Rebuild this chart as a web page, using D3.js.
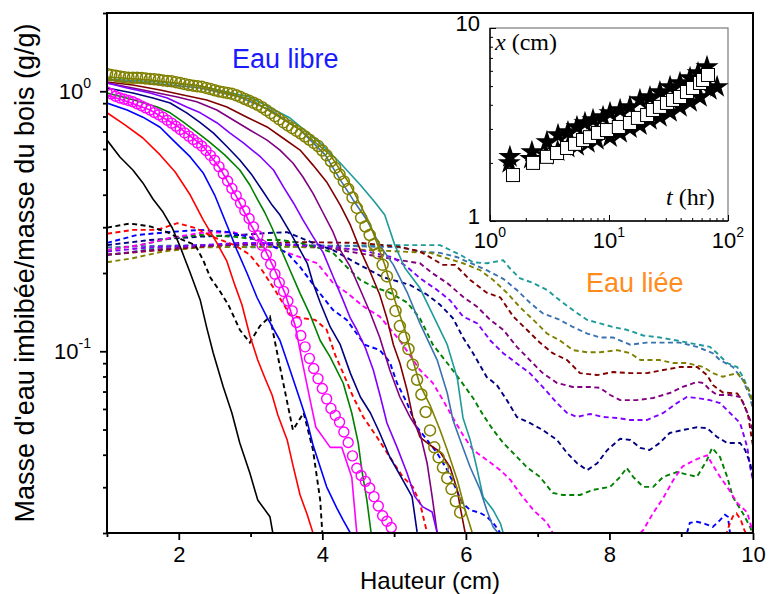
<!DOCTYPE html>
<html><head><meta charset="utf-8">
<script src="https://cdn.jsdelivr.net/npm/d3@7"></script>
<style>body{margin:0;background:#fff}svg{display:block}</style>
</head><body>
<svg id="c" width="769" height="594"></svg>
<script>
// ---------- DATA: main plot (x = Hauteur in cm, y = g/g) ----------
const xMajorTicks = [2, 4, 6, 8, 10];
const xMinorTicks = [1, 3, 5, 7, 9];
const yMajorTicks = [0.1, 1];
const yMajorLabels = [["10", "-1"], ["10", "0"]];
const yMinorTicks = [0.02,0.03,0.04,0.05,0.06,0.07,0.08,0.09,0.2,0.3,0.4,0.5,0.6,0.7,0.8,0.9,2];

// free water (solid lines)
const freeBlack = [[1.00,0.649],[1.18,0.559],[1.36,0.498],[1.50,0.444],[1.64,0.385],[1.78,0.343],[1.91,0.298],[2.02,0.252],[2.16,0.200],[2.30,0.157],[2.39,0.123],[2.48,0.0985],[2.62,0.0729],[2.74,0.0579],[2.85,0.0444],[2.99,0.0340],[3.10,0.0268],[3.27,0.0231],[3.31,0.0200]];
const freeRed = [[1.00,0.827],[1.25,0.742],[1.50,0.661],[1.74,0.569],[1.95,0.489],[2.16,0.399],[2.34,0.320],[2.53,0.261],[2.67,0.222],[2.78,0.180],[2.88,0.151],[2.99,0.115],[3.10,0.0925],[3.20,0.0789],[3.30,0.0679],[3.38,0.0569],[3.51,0.0456],[3.59,0.0365],[3.69,0.0280],[3.79,0.0235],[3.87,0.0200]];
const freeBlue = [[1.00,0.901],[1.28,0.847],[1.50,0.795],[1.74,0.727],[1.92,0.649],[2.16,0.559],[2.34,0.485],[2.50,0.399],[2.67,0.306],[2.81,0.245],[2.95,0.200],[3.09,0.161],[3.23,0.135],[3.41,0.110],[3.55,0.0847],[3.69,0.0649],[3.79,0.0535],[3.87,0.0436],[3.97,0.0359],[4.06,0.0301],[4.20,0.0250],[4.29,0.0224],[4.39,0.0200]];
const freeMagenta = [[1.00,0.967],[1.32,0.905],[1.60,0.847],[1.98,0.735],[2.34,0.615],[2.57,0.507],[2.81,0.391],[2.99,0.311],[3.17,0.256],[3.34,0.205],[3.48,0.167],[3.62,0.126],[3.73,0.0885],[3.83,0.0649],[3.91,0.0510],[4.11,0.0427],[4.27,0.0427],[4.41,0.0328],[4.48,0.0200]];
const freeGreen = [[1.00,0.984],[1.22,0.950],[1.46,0.911],[1.70,0.870],[1.88,0.826],[2.06,0.762],[2.25,0.697],[2.43,0.637],[2.64,0.569],[2.85,0.498],[2.99,0.436],[3.10,0.382],[3.20,0.341],[3.30,0.298],[3.41,0.252],[3.55,0.205],[3.69,0.167],[3.83,0.138],[3.97,0.110],[4.11,0.0950],[4.29,0.0755],[4.41,0.0579],[4.50,0.0444],[4.55,0.0349],[4.62,0.0268],[4.68,0.0200]];
const freeNavy = [[1.00,1.029],[1.36,0.984],[1.64,0.942],[1.88,0.901],[2.11,0.826],[2.30,0.757],[2.48,0.692],[2.67,0.613],[2.85,0.544],[3.02,0.476],[3.16,0.417],[3.30,0.365],[3.41,0.334],[3.55,0.287],[3.69,0.245],[3.79,0.218],[3.87,0.183],[3.97,0.154],[4.11,0.124],[4.25,0.106],[4.39,0.0824],[4.53,0.0667],[4.67,0.0579],[4.80,0.0485],[4.94,0.0392],[5.12,0.0320],[5.25,0.0276],[5.32,0.0202]];
const freeViolet = [[1.00,1.076],[1.28,1.029],[1.60,0.984],[1.84,0.942],[2.11,0.870],[2.30,0.826],[2.53,0.757],[2.71,0.692],[2.90,0.633],[3.14,0.559],[3.32,0.498],[3.46,0.428],[3.60,0.371],[3.73,0.320],[3.87,0.276],[4.01,0.240],[4.15,0.194],[4.29,0.157],[4.39,0.134],[4.48,0.121],[4.60,0.103],[4.71,0.0847],[4.81,0.0667],[4.90,0.0530],[5.04,0.0428],[5.18,0.0340],[5.29,0.0276],[5.40,0.0252],[5.53,0.0241],[5.60,0.0200]];
const freePurple = [[1.00,1.076],[1.36,1.029],[1.64,0.993],[1.98,0.950],[2.25,0.911],[2.53,0.847],[2.76,0.775],[2.99,0.710],[3.23,0.649],[3.41,0.594],[3.59,0.530],[3.73,0.468],[3.87,0.405],[4.01,0.341],[4.15,0.287],[4.25,0.245],[4.39,0.211],[4.53,0.172],[4.67,0.140],[4.80,0.113],[4.94,0.0847],[5.08,0.0667],[5.22,0.0559],[5.36,0.0485],[5.46,0.0371],[5.53,0.0276],[5.60,0.0200]];
const freeDarkRed = [[1.00,1.085],[1.36,1.057],[1.74,1.011],[2.06,0.967],[2.39,0.926],[2.67,0.870],[2.95,0.795],[3.23,0.729],[3.45,0.661],[3.69,0.594],[3.87,0.520],[4.06,0.448],[4.25,0.365],[4.39,0.306],[4.53,0.245],[4.67,0.201],[4.80,0.165],[4.90,0.134],[4.99,0.106],[5.08,0.0901],[5.18,0.0710],[5.26,0.0559],[5.36,0.0468],[5.50,0.0436],[5.64,0.0410],[5.78,0.0358],[5.88,0.0293],[5.92,0.0252],[5.99,0.0200]];
const freeOlive = [[1.00,1.135],[1.60,1.105],[2.30,1.048],[2.99,0.934],[3.69,0.710],[4.11,0.569],[4.39,0.436],[4.67,0.306],[4.87,0.215],[5.01,0.157],[5.15,0.121],[5.26,0.0925],[5.36,0.0742],[5.50,0.0621],[5.64,0.0498],[5.74,0.0417],[5.88,0.0320],[5.99,0.0245],[6.09,0.0200]];
const freeSteel = [[1.00,1.105],[1.74,1.066],[2.30,1.029],[2.85,0.950],[3.27,0.847],[3.69,0.710],[4.04,0.569],[4.25,0.456],[4.43,0.382],[4.62,0.320],[4.80,0.256],[4.99,0.215],[5.18,0.169],[5.36,0.128],[5.60,0.0925],[5.74,0.0691],[5.82,0.0544],[5.92,0.0456],[6.06,0.0358],[6.20,0.0293],[6.29,0.0245],[6.38,0.0211],[6.45,0.0200]];
const freeTeal = [[1.00,1.115],[1.74,1.085],[2.30,1.048],[2.99,0.950],[3.55,0.789],[3.97,0.632],[4.25,0.530],[4.53,0.436],[4.73,0.375],[4.87,0.334],[5.01,0.256],[5.15,0.209],[5.36,0.175],[5.54,0.138],[5.74,0.106],[5.88,0.0788],[5.96,0.0554],[6.06,0.0456],[6.15,0.0358],[6.24,0.0275],[6.38,0.0245],[6.48,0.0218],[6.52,0.0200]];

// circle-marker series (sampled heights)
const sampleX = [1.00,1.06,1.12,1.18,1.24,1.30,1.36,1.42,1.48,1.54,1.60,1.66,1.72,1.78,1.84,1.90,1.96,2.02,2.08,2.14,2.20,2.26,2.32,2.38,2.44,2.50,2.56,2.62,2.68,2.74,2.80,2.86,2.92,2.98,3.04,3.10,3.16,3.22,3.28,3.34,3.40,3.46,3.52,3.58,3.64,3.70,3.76,3.82,3.88,3.94,4.00,4.06,4.12,4.18,4.24,4.30,4.36,4.42,4.48,4.54,4.60,4.66,4.72,4.78,4.84,4.90,4.96,5.02,5.08,5.14,5.20,5.26,5.32,5.38,5.44,5.50,5.56,5.62,5.68,5.74,5.80,5.86,5.92];
const magentaCircleY = [0.993,0.976,0.957,0.942,0.932,0.921,0.911,0.895,0.879,0.863,0.847,0.828,0.812,0.795,0.774,0.754,0.734,0.713,0.692,0.672,0.652,0.633,0.616,0.592,0.567,0.543,0.513,0.482,0.452,0.423,0.397,0.371,0.347,0.324,0.301,0.278,0.256,0.235,0.216,0.198,0.184,0.170,0.156,0.143,0.129,0.115,0.104,0.0939,0.0858,0.0785,0.0719,0.0656,0.0603,0.0567,0.0534,0.0489,0.0446,0.0396,0.0355,0.0333,0.0316,0.0298,0.0276,0.0254,0.0233,0.0222,0.0210];
const oliveCircleY = [1.165,1.156,1.148,1.140,1.132,1.127,1.127,1.127,1.125,1.120,1.116,1.112,1.107,1.101,1.096,1.092,1.084,1.075,1.066,1.057,1.051,1.045,1.040,1.030,1.020,1.009,0.999,0.992,0.985,0.978,0.965,0.950,0.934,0.919,0.903,0.887,0.868,0.846,0.824,0.802,0.780,0.759,0.739,0.721,0.704,0.688,0.670,0.651,0.633,0.616,0.592,0.567,0.538,0.508,0.479,0.450,0.421,0.390,0.356,0.326,0.302,0.280,0.258,0.238,0.215,0.194,0.166,0.143,0.125,0.113,0.102,0.0888,0.0777,0.0682,0.0584,0.0496,0.0427,0.0391,0.0357,0.0325,0.0295,0.0265,0.0240];

// bound water (dashed lines); null = gap
const boundBlack = [[1.00,0.299],[1.32,0.310],[1.60,0.302],[1.84,0.287],[2.02,0.271],[2.23,0.256],[2.34,0.224],[2.44,0.192],[2.58,0.169],[2.69,0.151],[2.85,0.121],[2.99,0.108],[3.13,0.125],[3.27,0.136],[3.41,0.0870],[3.59,0.0498],[3.74,0.0579],[3.87,0.0417],[3.97,0.0268],[4.00,0.0200]];
const boundRed = [[1.00,0.283],[1.36,0.293],[1.70,0.293],[1.98,0.311],[2.23,0.298],[2.51,0.273],[2.78,0.256],[2.99,0.235],[3.16,0.205],[3.34,0.172],[3.55,0.138],[3.73,0.134],[3.90,0.132],[4.06,0.121],[4.18,0.0967],[4.29,0.0824],[4.43,0.0667],[4.57,0.0559],[4.76,0.0468],[4.94,0.0392],[5.12,0.0329],[5.26,0.0301],[5.36,0.0261],[5.46,0.0200],null,[9.62,0.0195],[9.67,0.0215],[9.72,0.0232],[9.77,0.0238],[9.83,0.0225],[9.88,0.0205],[9.92,0.0195]];
const boundBlue = [[1.00,0.261],[1.42,0.280],[1.84,0.287],[2.30,0.293],[2.71,0.287],[3.13,0.268],[3.51,0.239],[3.69,0.211],[3.93,0.172],[4.15,0.144],[4.34,0.132],[4.59,0.106],[4.80,0.101],[4.94,0.0909],[5.04,0.0755],[5.18,0.0632],[5.32,0.0510],[5.46,0.0456],[5.60,0.0406],[5.74,0.0349],[5.85,0.0301],[5.95,0.0261],[6.06,0.0245],[6.20,0.0239],[6.29,0.0231],[6.38,0.0219],[6.48,0.0200],null,[9.08,0.0200],[9.12,0.0219],[9.22,0.0221],[9.33,0.0217],[9.44,0.0211],[9.54,0.0224],[9.61,0.0235],[9.65,0.0231],[9.68,0.0200]];
const boundMagenta = [[1.00,0.245],[1.46,0.256],[1.88,0.273],[2.30,0.285],[2.76,0.287],[3.13,0.268],[3.41,0.245],[3.69,0.230],[3.93,0.218],[4.15,0.183],[4.34,0.168],[4.57,0.149],[4.80,0.136],[5.08,0.110],[5.36,0.0847],[5.54,0.0755],[5.68,0.0649],[5.82,0.0554],[5.96,0.0476],[6.10,0.0417],[6.29,0.0382],[6.48,0.0349],[6.62,0.0320],[6.75,0.0285],[6.94,0.0245],[7.13,0.0219],[7.21,0.0200],null,[8.43,0.0200],[8.47,0.0205],[8.61,0.0239],[8.75,0.0273],[8.89,0.0320],[9.02,0.0361],[9.22,0.0385],[9.36,0.0398],[9.44,0.0365],[9.54,0.0329],[9.64,0.0301],[9.78,0.0261],[9.92,0.0240],[9.96,0.0219],[10.0,0.0200]];
const boundGreen = [[1.00,0.245],[1.46,0.256],[1.92,0.273],[2.30,0.280],[2.76,0.276],[3.13,0.268],[3.41,0.268],[3.69,0.261],[3.97,0.249],[4.15,0.239],[4.34,0.211],[4.53,0.188],[4.71,0.177],[4.94,0.168],[5.18,0.154],[5.36,0.134],[5.54,0.106],[5.74,0.0901],[5.92,0.0775],[6.10,0.0661],[6.24,0.0569],[6.38,0.0498],[6.52,0.0444],[6.66,0.0406],[6.85,0.0358],[7.03,0.0329],[7.21,0.0285],[7.35,0.0280],[7.59,0.0280],[7.77,0.0293],[8.01,0.0301],[8.15,0.0329],[8.24,0.0356],[8.33,0.0329],[8.47,0.0301],[8.61,0.0301],[8.75,0.0329],[8.94,0.0343],[9.22,0.0329],[9.36,0.0382],[9.43,0.0425],[9.54,0.0392],[9.64,0.0329],[9.72,0.0275],[9.86,0.0238],[9.96,0.0211],[9.99,0.0200]];
const boundNavy = [[1.00,0.256],[1.60,0.268],[2.30,0.276],[2.85,0.280],[3.23,0.285],[3.51,0.287],[3.87,0.261],[4.15,0.245],[4.45,0.220],[4.84,0.193],[5.22,0.180],[5.46,0.165],[5.64,0.151],[5.82,0.134],[5.96,0.113],[6.10,0.0983],[6.29,0.0796],[6.43,0.0742],[6.57,0.0649],[6.71,0.0559],[6.89,0.0530],[7.07,0.0498],[7.27,0.0456],[7.41,0.0406],[7.55,0.0371],[7.69,0.0349],[7.83,0.0371],[7.97,0.0417],[8.15,0.0461],[8.29,0.0456],[8.43,0.0425],[8.56,0.0417],[8.70,0.0444],[8.84,0.0485],[9.02,0.0498],[9.22,0.0510],[9.36,0.0506],[9.50,0.0468],[9.64,0.0444],[9.82,0.0444],[9.89,0.0417],[9.96,0.0371],[10.0,0.0329]];
const boundViolet = [[1.00,0.242],[1.60,0.251],[2.30,0.256],[2.85,0.261],[3.23,0.261],[3.69,0.256],[4.11,0.252],[4.53,0.245],[4.98,0.230],[5.18,0.211],[5.36,0.191],[5.60,0.172],[5.78,0.157],[5.96,0.136],[6.16,0.128],[6.34,0.110],[6.52,0.0983],[6.71,0.0897],[6.89,0.0824],[7.07,0.0729],[7.27,0.0632],[7.41,0.0579],[7.55,0.0559],[7.73,0.0574],[7.91,0.0559],[8.11,0.0554],[8.29,0.0544],[8.52,0.0544],[8.75,0.0579],[8.94,0.0632],[9.08,0.0667],[9.22,0.0661],[9.40,0.0649],[9.54,0.0632],[9.68,0.0579],[9.82,0.0530],[9.92,0.0428],[9.96,0.0358],[10.0,0.0320]];
const boundPurple = [[1.00,0.235],[1.60,0.245],[2.30,0.254],[2.99,0.258],[3.69,0.256],[4.25,0.245],[4.84,0.230],[5.08,0.224],[5.36,0.218],[5.54,0.199],[5.74,0.183],[5.96,0.162],[6.16,0.148],[6.34,0.132],[6.52,0.121],[6.71,0.104],[6.89,0.0925],[7.07,0.0824],[7.27,0.0755],[7.49,0.0729],[7.73,0.0729],[7.87,0.0723],[8.01,0.0679],[8.15,0.0649],[8.38,0.0649],[8.61,0.0661],[8.84,0.0691],[9.02,0.0729],[9.22,0.0762],[9.31,0.0755],[9.40,0.0710],[9.50,0.0679],[9.68,0.0679],[9.82,0.0667],[9.89,0.0610],[9.96,0.0544],[10.0,0.0485]];
const boundDarkRed = [[1.00,0.235],[1.74,0.245],[2.57,0.256],[3.69,0.263],[4.53,0.261],[5.08,0.252],[5.36,0.242],[5.68,0.215],[5.85,0.215],[6.06,0.188],[6.29,0.168],[6.48,0.161],[6.66,0.136],[6.85,0.121],[7.03,0.108],[7.21,0.0983],[7.41,0.0925],[7.59,0.0824],[7.83,0.0810],[8.05,0.0832],[8.29,0.0824],[8.52,0.0824],[8.75,0.0847],[8.98,0.0870],[9.22,0.0870],[9.36,0.0810],[9.44,0.0742],[9.58,0.0694],[9.78,0.0688],[9.86,0.0638],[9.93,0.0569],[9.97,0.0485],[10.0,0.0432]];
const boundOlive = [[1.00,0.220],[1.36,0.228],[1.78,0.242],[2.30,0.251],[2.99,0.252],[3.69,0.252],[4.39,0.247],[5.08,0.242],[5.50,0.239],[5.96,0.218],[6.20,0.205],[6.38,0.188],[6.57,0.168],[6.75,0.148],[6.94,0.132],[7.13,0.117],[7.31,0.110],[7.49,0.101],[7.69,0.0991],[7.87,0.0991],[8.11,0.101],[8.29,0.0983],[8.43,0.0925],[8.70,0.0925],[8.89,0.0901],[9.08,0.0901],[9.31,0.0870],[9.44,0.0824],[9.58,0.0798],[9.78,0.0824],[9.86,0.0775],[9.96,0.0694],[10.0,0.0610]];
const boundSteel = [[1.00,0.251],[1.60,0.254],[2.30,0.256],[2.99,0.256],[3.69,0.256],[4.39,0.254],[5.08,0.251],[5.36,0.242],[5.64,0.239],[5.88,0.230],[6.29,0.205],[6.52,0.190],[6.71,0.172],[6.89,0.154],[7.07,0.140],[7.31,0.132],[7.49,0.124],[7.69,0.117],[7.87,0.113],[8.05,0.113],[8.29,0.106],[8.52,0.108],[8.75,0.108],[8.98,0.108],[9.22,0.104],[9.44,0.0983],[9.54,0.0925],[9.72,0.0870],[9.86,0.0775],[9.96,0.0667],[10.0,0.0594]];
const boundTeal = [[1.00,0.235],[1.28,0.239],[1.74,0.251],[2.30,0.256],[2.99,0.251],[3.51,0.252],[4.11,0.254],[4.80,0.256],[5.36,0.256],[5.64,0.256],[5.92,0.235],[6.10,0.220],[6.29,0.218],[6.52,0.224],[6.61,0.209],[6.75,0.191],[6.94,0.183],[7.13,0.172],[7.31,0.157],[7.49,0.144],[7.69,0.132],[7.87,0.128],[8.05,0.124],[8.24,0.121],[8.47,0.115],[8.70,0.113],[8.94,0.110],[9.16,0.107],[9.40,0.104],[9.50,0.0983],[9.64,0.0901],[9.78,0.0870],[9.86,0.0796],[9.96,0.0694],[10.0,0.0610]];

// ---------- DATA: inset (t in hr, x in cm) ----------
const insetXTicks = [1, 10, 100];
const insetXLabels = [["10","0"],["10","1"],["10","2"]];
const insetYTicks = [1, 10];
const insetYLabels = ["1", "10"];
const squareT = [1.56,2.30,3.01,3.66,4.44,5.18,6.05,6.92,8.08,9.62,12.1,15.0,17.5,20.9,23.4,26.8,30.7,34.5,39.5,45.2,50.8,58.2,61.7,67.9];
const squareX = [1.73,2.00,2.15,2.25,2.39,2.51,2.63,2.72,2.86,2.96,3.07,3.22,3.42,3.54,3.76,3.90,4.09,4.24,4.39,4.66,4.89,5.19,5.38,5.71];
const starUpperT = [1.47,2.25,3.01,3.73,4.52,5.38,6.28,7.34,8.91,10.2,12.4,15.0,18.2,22.1,26.8,32.6,39.5,48.0,56.0,66.6];
const starUpperX = [2.15,2.28,2.57,2.79,2.89,3.07,3.22,3.34,3.46,3.63,3.76,3.90,4.24,4.39,4.66,4.95,5.19,5.51,5.84,6.28];
const starLowerT = [1.45,2.20,2.95,3.70,4.50,5.40,6.65,7.92,10.2,12.4,15.0,18.2,22.1,26.8,32.6,39.5,48.0,58.2,70.5,81.0];
const starLowerX = [2.00,2.10,2.20,2.30,2.40,2.45,2.54,2.63,2.72,2.86,3.03,3.14,3.34,3.46,3.67,3.90,4.14,4.39,4.77,4.95];

// ---------- STYLE ----------
const COL = {black:"#000000", red:"#ff0000", blue:"#0000ff", magenta:"#ff00ff", green:"#008000",
  navy:"#000080", violet:"#8000ff", purple:"#800080", darkred:"#800000", olive:"#808000",
  steel:"#3a72b0", teal:"#1f9a9a"};
const SANS = "'Liberation Sans', Arial, Helvetica, sans-serif";
const SERIF = "'Liberation Serif', 'Times New Roman', serif";

const boundSeries = [
  {d: boundTeal, c: COL.teal}, {d: boundSteel, c: COL.steel}, {d: boundOlive, c: COL.olive},
  {d: boundDarkRed, c: COL.darkred}, {d: boundPurple, c: COL.purple}, {d: boundViolet, c: COL.violet},
  {d: boundNavy, c: COL.navy}, {d: boundGreen, c: COL.green}, {d: boundMagenta, c: COL.magenta},
  {d: boundBlue, c: COL.blue}, {d: boundRed, c: COL.red}, {d: boundBlack, c: COL.black}];
const freeSeries = [
  {d: freeTeal, c: COL.teal}, {d: freeSteel, c: COL.steel}, {d: freeOlive, c: COL.olive},
  {d: freeDarkRed, c: COL.darkred}, {d: freePurple, c: COL.purple}, {d: freeViolet, c: COL.violet},
  {d: freeNavy, c: COL.navy}, {d: freeGreen, c: COL.green}, {d: freeMagenta, c: COL.magenta},
  {d: freeBlue, c: COL.blue}, {d: freeRed, c: COL.red}, {d: freeBlack, c: COL.black}];

// ---------- DRAW ----------
const svg = d3.select("#c");
svg.append("rect").attr("width", 769).attr("height", 594).attr("fill", "#fff");

const x = d3.scaleLinear().domain([1, 10]).range([107, 753]);
const y = d3.scaleLog().domain([0.02, 2]).range([533, 13]);

svg.append("defs").append("clipPath").attr("id", "plotclip").append("rect")
  .attr("x", x.range()[0]).attr("y", y.range()[1])
  .attr("width", x.range()[1] - x.range()[0]).attr("height", y.range()[0] - y.range()[1]);

const plot = svg.append("g").attr("clip-path", "url(#plotclip)");
const line = d3.line().defined(d => d !== null).x(d => x(d[0])).y(d => y(d[1]));

plot.append("g").selectAll("path").data(boundSeries).join("path")
  .attr("d", s => line(s.d)).attr("fill", "none").attr("stroke", s => s.c)
  .attr("stroke-width", 1.9).attr("stroke-dasharray", "5,3.5");

plot.append("g").selectAll("path").data(freeSeries).join("path")
  .attr("d", s => line(s.d)).attr("fill", "none").attr("stroke", s => s.c)
  .attr("stroke-width", 1.6).attr("stroke-linejoin", "round");

plot.append("g").selectAll("circle").data(magentaCircleY).join("circle")
  .attr("cx", (v, i) => x(sampleX[i])).attr("cy", v => y(v)).attr("r", 5)
  .attr("fill", "none").attr("stroke", COL.magenta).attr("stroke-width", 1.4);
plot.append("g").selectAll("circle").data(oliveCircleY).join("circle")
  .attr("cx", (v, i) => x(sampleX[i])).attr("cy", v => y(v)).attr("r", 5.5)
  .attr("fill", "none").attr("stroke", COL.olive).attr("stroke-width", 1.5);

// axes
function styleAxis(g) {
  g.select(".domain").remove();
  g.selectAll(".tick line").attr("stroke", "#000").attr("stroke-width", 1.8);
  g.selectAll("text").attr("font-family", SANS).attr("font-size", 22).attr("fill", "#000");
}
svg.append("g").attr("transform", `translate(0,${y.range()[0]})`)
  .call(d3.axisBottom(x).tickValues(xMajorTicks).tickSize(7).tickPadding(6).tickFormat(d3.format("d")))
  .call(styleAxis);
svg.append("g").attr("transform", `translate(0,${y.range()[0]})`)
  .call(d3.axisBottom(x).tickValues(xMinorTicks).tickSize(4).tickFormat(""))
  .call(styleAxis);
svg.append("g").attr("transform", `translate(${x.range()[0]},0)`)
  .call(d3.axisLeft(y).tickValues(yMajorTicks).tickSize(7).tickFormat(""))
  .call(styleAxis);
svg.append("g").attr("transform", `translate(${x.range()[0]},0)`)
  .call(d3.axisLeft(y).tickValues(yMinorTicks).tickSize(4).tickFormat(""))
  .call(styleAxis);

svg.append("rect").attr("x", x.range()[0]).attr("y", y.range()[1])
  .attr("width", x.range()[1] - x.range()[0]).attr("height", y.range()[0] - y.range()[1])
  .attr("fill", "none").attr("stroke", "#000").attr("stroke-width", 2);

function supText(g, px, py, base, exp, anchor, size, supSize, dy) {
  const t = g.append("text").attr("x", px).attr("y", py).attr("text-anchor", anchor)
    .attr("font-family", SANS).attr("font-size", size).attr("fill", "#000").attr("dy", dy);
  t.append("tspan").text(base);
  t.append("tspan").attr("font-size", supSize).attr("dy", -Math.round(size * 0.5)).text(exp);
  return t;
}
yMajorTicks.forEach((v, i) => {
  supText(svg, x.range()[0] - 16, y(v), yMajorLabels[i][0], yMajorLabels[i][1], "end", 22, 14, "0.36em");
});

// titles
svg.append("text").attr("x", (x.range()[0] + x.range()[1]) / 2).attr("y", 588.5)
  .attr("text-anchor", "middle").attr("font-family", SANS).attr("font-size", 24).attr("fill", "#000")
  .text("Hauteur (cm)");
svg.append("text").attr("transform", `translate(34,${(y.range()[0] + y.range()[1]) / 2}) rotate(-90)`)
  .attr("text-anchor", "middle").attr("font-family", SANS).attr("font-size", 27).attr("fill", "#000")
  .text("Masse d'eau imbibée/masse du bois (g/g)");
svg.append("text").attr("x", 232).attr("y", 68).attr("font-family", SANS).attr("font-size", 27)
  .attr("fill", "#1a1aff").text("Eau libre");
svg.append("text").attr("x", 586).attr("y", 292).attr("font-family", SANS).attr("font-size", 27)
  .attr("fill", "#ff8c1a").text("Eau liée");

// ---------- INSET ----------
const ix = d3.scaleLog().domain([1, 100]).range([490, 728]);
const iy = d3.scaleLog().domain([1, 10]).range([221, 28]);
const inset = svg.append("g");
inset.append("rect").attr("x", ix.range()[0]).attr("y", iy.range()[1])
  .attr("width", ix.range()[1] - ix.range()[0]).attr("height", iy.range()[0] - iy.range()[1])
  .attr("fill", "#fff").attr("stroke", "#7a7a7a").attr("stroke-width", 1.2);
const ixMinor = [2,3,4,5,6,7,8,9,20,30,40,50,60,70,80,90];
const iyMinor = [2,3,4,5,6,7,8,9];
function styleInset(g) {
  g.select(".domain").remove();
  g.selectAll(".tick line").attr("stroke", "#000").attr("stroke-width", 1);
}
inset.append("g").attr("transform", `translate(0,${iy.range()[0]})`)
  .call(d3.axisBottom(ix).tickValues(insetXTicks).tickSize(-6).tickFormat("")).call(styleInset);
inset.append("g").attr("transform", `translate(0,${iy.range()[0]})`)
  .call(d3.axisBottom(ix).tickValues(ixMinor).tickSize(-3).tickFormat("")).call(styleInset);
inset.append("g").attr("transform", `translate(${ix.range()[0]},0)`)
  .call(d3.axisLeft(iy).tickValues(insetYTicks).tickSize(-6).tickFormat("")).call(styleInset);
inset.append("g").attr("transform", `translate(${ix.range()[0]},0)`)
  .call(d3.axisLeft(iy).tickValues(iyMinor).tickSize(-3).tickFormat("")).call(styleInset);
inset.append("line").attr("x1", ix.range()[0]).attr("x2", ix.range()[0])
  .attr("y1", iy.range()[0]).attr("y2", iy.range()[1]).attr("stroke", "#000").attr("stroke-width", 1.4);
inset.append("line").attr("x1", ix.range()[0]).attr("x2", ix.range()[1])
  .attr("y1", iy.range()[0]).attr("y2", iy.range()[0]).attr("stroke", "#000").attr("stroke-width", 1.4);

insetXTicks.forEach((v, i) => {
  supText(inset, ix(v), 248, insetXLabels[i][0], insetXLabels[i][1], "middle", 22, 14, "0");
});
insetYTicks.forEach((v, i) => {
  inset.append("text").attr("x", ix.range()[0] - 10).attr("y", iy(v)).attr("dy", "0.12em")
    .attr("text-anchor", "end").attr("font-family", SANS).attr("font-size", 22).attr("fill", "#000")
    .text(insetYLabels[i]);
});

const star = d3.symbol().type(d3.symbolStar).size(165);
inset.append("g").selectAll("path").data(starLowerT).join("path")
  .attr("transform", (t, i) => `translate(${ix(t)},${iy(starLowerX[i])})`).attr("d", star).attr("fill", "#000");
inset.append("g").selectAll("path").data(starUpperT).join("path")
  .attr("transform", (t, i) => `translate(${ix(t)},${iy(starUpperX[i])})`).attr("d", star).attr("fill", "#000");
const sq = 13;
inset.append("g").selectAll("rect").data(squareT).join("rect")
  .attr("x", t => ix(t) - sq / 2).attr("y", (t, i) => iy(squareX[i]) - sq / 2)
  .attr("width", sq).attr("height", sq).attr("fill", "#fff").attr("stroke", "#000").attr("stroke-width", 1);

const xl = inset.append("text").attr("x", 495).attr("y", 50).attr("font-family", SERIF)
  .attr("font-size", 24).attr("fill", "#000");
xl.append("tspan").attr("font-style", "italic").text("x");
xl.append("tspan").text(" (cm)");
const tl = inset.append("text").attr("x", 666).attr("y", 205).attr("font-family", SERIF)
  .attr("font-size", 24).attr("fill", "#000");
tl.append("tspan").attr("font-style", "italic").text("t");
tl.append("tspan").text(" (hr)");
</script>
</body></html>
